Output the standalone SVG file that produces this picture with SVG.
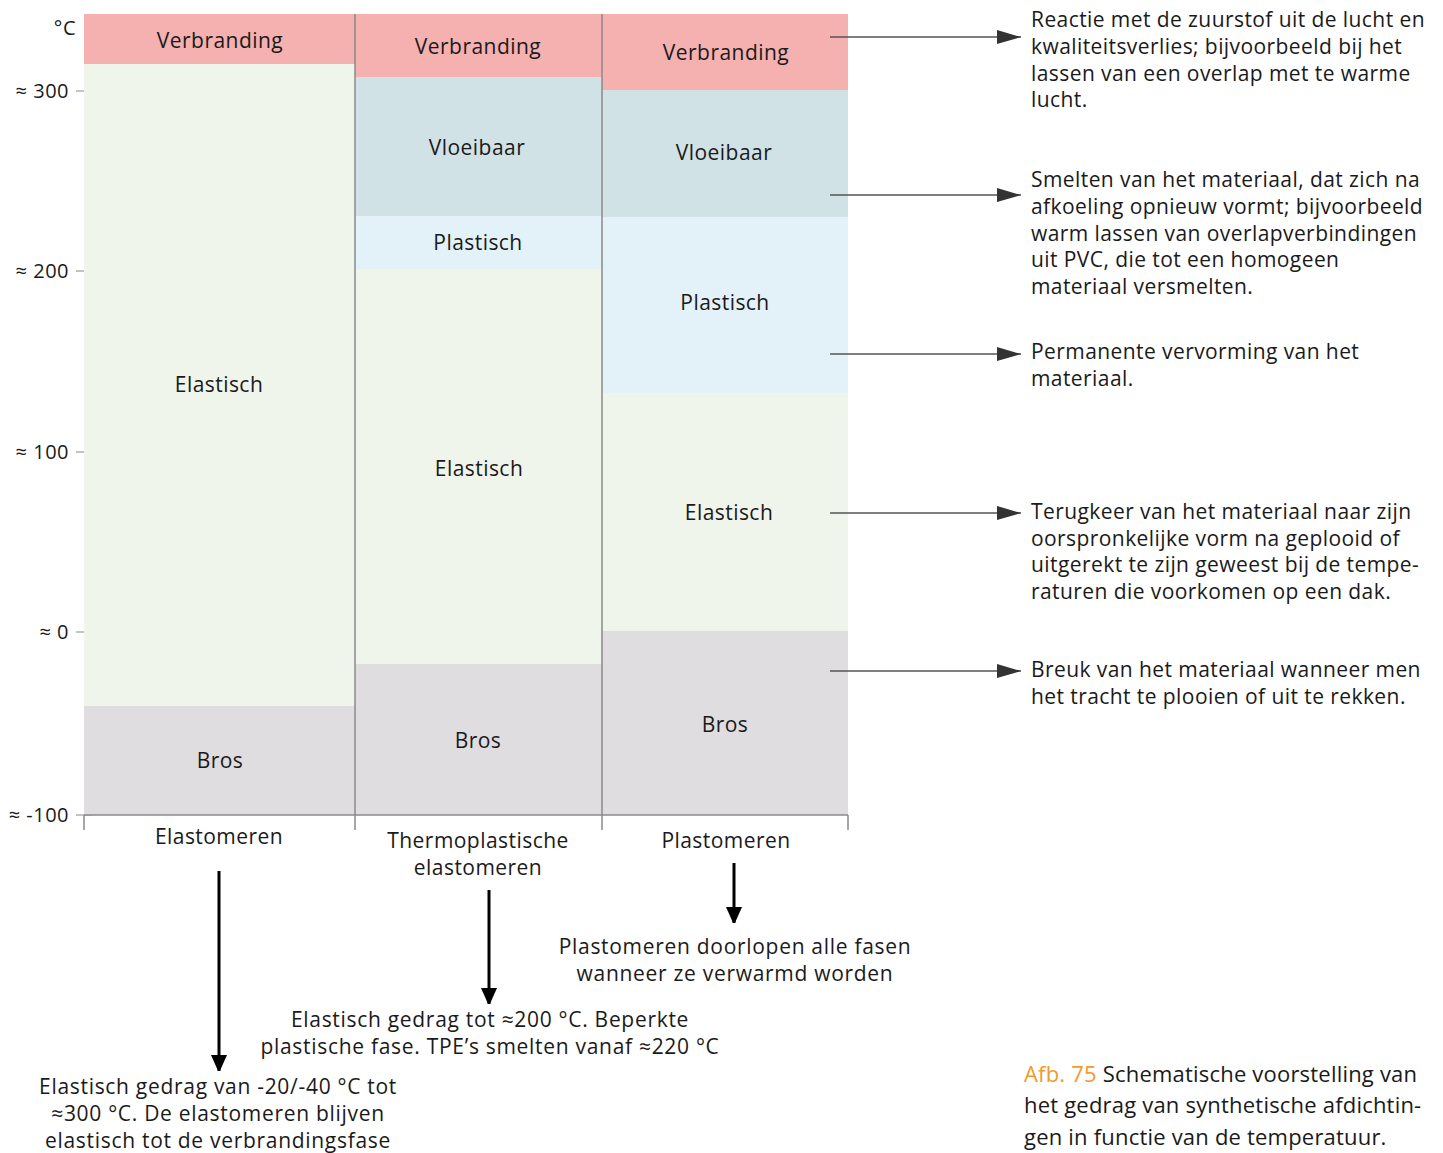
<svg xmlns="http://www.w3.org/2000/svg" width="1443" height="1153" viewBox="0 0 1443 1153">
  <style>
    text { font-family: "Open Sans", "Noto Sans", sans-serif; fill: #1a1a1a; }
    .seg { font-size: 21px; text-anchor: middle; letter-spacing: 0.45px; }
    .ax { font-size: 20px; text-anchor: end; letter-spacing: 0.5px; }
    .note { font-size: 21px; letter-spacing: 0.42px; }
    .mid { font-size: 21px; text-anchor: middle; letter-spacing: 0.7px; }
    .cap { font-size: 22px; letter-spacing: 0.2px; }
    .burn { fill: #f5b0b0; }
    .liq { fill: #d1e2e6; }
    .plas { fill: #e3f1f8; }
    .elas { fill: #f0f5eb; }
    .brit { fill: #dfdddf; }
    .grid { stroke: #8a8a8a; stroke-width: 1.5; fill: none; }
    .tick { stroke: #9a9a9a; stroke-width: 1.2; }
    .lead { stroke: #555; stroke-width: 1.3; fill: none; }
    .down { stroke: #000; stroke-width: 3; fill: none; }
  </style>
  <defs>
    <marker id="headGray" markerUnits="userSpaceOnUse" markerWidth="26" markerHeight="14" refX="24" refY="7" orient="auto">
      <path d="M0,0 L24,7 L0,14 Z" fill="#333"/>
    </marker>
    <marker id="headBlack" markerUnits="userSpaceOnUse" markerWidth="16" markerHeight="20" refX="16" refY="8" orient="auto">
      <path d="M0,0 L18,8 L0,16 Z" fill="#000"/>
    </marker>
  </defs>

  <!-- temperature axis -->
  <g id="axis">
    <text class="ax" x="76" y="35">°C</text>
    <text class="ax" x="69" y="98">≈ 300</text>
    <text class="ax" x="69" y="278">≈ 200</text>
    <text class="ax" x="69" y="459">≈ 100</text>
    <text class="ax" x="69" y="639">≈ 0</text>
    <text class="ax" x="69" y="822">≈ -100</text>
    <line class="tick" x1="76" y1="91" x2="92" y2="91"/>
    <line class="tick" x1="76" y1="271" x2="92" y2="271"/>
    <line class="tick" x1="76" y1="452" x2="92" y2="452"/>
    <line class="tick" x1="76" y1="632" x2="92" y2="632"/>
    <line class="tick" x1="76" y1="815" x2="92" y2="815"/>
  </g>

  <!-- column: elastomers -->
  <g id="col-elastomeren">
    <rect class="burn" x="84" y="14" width="271" height="50"/>
    <rect class="elas" x="84" y="64" width="271" height="642"/>
    <rect class="brit" x="84" y="706" width="271" height="109"/>
    <text class="seg" x="220" y="48">Verbranding</text>
    <text class="seg" x="219" y="392">Elastisch</text>
    <text class="seg" x="220" y="768">Bros</text>
    <text class="seg" x="219" y="844">Elastomeren</text>
  </g>

  <!-- column: thermoplastic elastomers -->
  <g id="col-tpe">
    <rect class="burn" x="355" y="14" width="247" height="63"/>
    <rect class="liq" x="355" y="77" width="247" height="139"/>
    <rect class="plas" x="355" y="216" width="247" height="53"/>
    <rect class="elas" x="355" y="269" width="247" height="395"/>
    <rect class="brit" x="355" y="664" width="247" height="151"/>
    <text class="seg" x="478" y="54">Verbranding</text>
    <text class="seg" x="477" y="155">Vloeibaar</text>
    <text class="seg" x="478" y="250">Plastisch</text>
    <text class="seg" x="479" y="476">Elastisch</text>
    <text class="seg" x="478" y="748">Bros</text>
    <text class="seg" x="478" y="848">Thermoplastische</text>
    <text class="seg" x="478" y="875">elastomeren</text>
  </g>

  <!-- column: plastomers -->
  <g id="col-plastomeren">
    <rect class="burn" x="602" y="14" width="246" height="76"/>
    <rect class="liq" x="602" y="90" width="246" height="127"/>
    <rect class="plas" x="602" y="217" width="246" height="176"/>
    <rect class="elas" x="602" y="393" width="246" height="238"/>
    <rect class="brit" x="602" y="631" width="246" height="184"/>
    <text class="seg" x="726" y="60">Verbranding</text>
    <text class="seg" x="724" y="160">Vloeibaar</text>
    <text class="seg" x="725" y="310">Plastisch</text>
    <text class="seg" x="729" y="520">Elastisch</text>
    <text class="seg" x="725" y="732">Bros</text>
    <text class="seg" x="726" y="848">Plastomeren</text>
  </g>

  <!-- frame lines -->
  <g id="frame">
    <line class="grid" x1="355" y1="14" x2="355" y2="830"/>
    <line class="grid" x1="602" y1="14" x2="602" y2="830"/>
    <line class="grid" x1="84" y1="815" x2="848" y2="815"/>
    <line class="grid" x1="84" y1="815" x2="84" y2="830"/>
    <line class="grid" x1="848" y1="815" x2="848" y2="830"/>
  </g>

  <!-- descriptions of each phase -->
  <g id="note-verbranding">
    <text class="note" x="1031" y="27">Reactie met de zuurstof uit de lucht en</text>
    <text class="note" x="1031" y="54">kwaliteitsverlies; bijvoorbeeld bij het</text>
    <text class="note" x="1031" y="81">lassen van een overlap met te warme</text>
    <text class="note" x="1031" y="107">lucht.</text>
  </g>
  <g id="note-vloeibaar">
    <text class="note" x="1031" y="187">Smelten van het materiaal, dat zich na</text>
    <text class="note" x="1031" y="214">afkoeling opnieuw vormt; bijvoorbeeld</text>
    <text class="note" x="1031" y="241">warm lassen van overlapverbindingen</text>
    <text class="note" x="1031" y="267">uit PVC, die tot een homogeen</text>
    <text class="note" x="1031" y="294">materiaal versmelten.</text>
  </g>
  <g id="note-plastisch">
    <text class="note" x="1031" y="359">Permanente vervorming van het</text>
    <text class="note" x="1031" y="386">materiaal.</text>
  </g>
  <g id="note-elastisch">
    <text class="note" x="1031" y="519">Terugkeer van het materiaal naar zijn</text>
    <text class="note" x="1031" y="546">oorspronkelijke vorm na geplooid of</text>
    <text class="note" x="1031" y="572">uitgerekt te zijn geweest bij de tempe-</text>
    <text class="note" x="1031" y="599">raturen die voorkomen op een dak.</text>
  </g>
  <g id="note-bros">
    <text class="note" x="1031" y="677">Breuk van het materiaal wanneer men</text>
    <text class="note" x="1031" y="704">het tracht te plooien of uit te rekken.</text>
  </g>

  <!-- summaries under the columns -->
  <g id="sum-plastomeren">
    <text class="mid" x="735" y="954">Plastomeren doorlopen alle fasen</text>
    <text class="mid" x="735" y="981">wanneer ze verwarmd worden</text>
  </g>
  <g id="sum-tpe">
    <text class="mid" x="490" y="1027">Elastisch gedrag tot ≈200 °C. Beperkte</text>
    <text class="mid" x="490" y="1054">plastische fase. TPE’s smelten vanaf ≈220 °C</text>
  </g>
  <g id="sum-elastomeren">
    <text class="mid" x="218" y="1094">Elastisch gedrag van -20/-40 °C tot</text>
    <text class="mid" x="218" y="1121">≈300 °C. De elastomeren blijven</text>
    <text class="mid" x="218" y="1148">elastisch tot de verbrandingsfase</text>
  </g>

  <!-- caption -->
  <g id="caption">
    <text class="cap" x="1024" y="1082"><tspan fill="#f39a2b">Afb. 75</tspan> Schematische voorstelling van</text>
    <text class="cap" x="1024" y="1113">het gedrag van synthetische afdichtin-</text>
    <text class="cap" x="1024" y="1145">gen in functie van de temperatuur.</text>
  </g>

  <!-- connectors -->
  <g id="connectors">
    <line class="lead" x1="830" y1="37" x2="1021" y2="37" marker-end="url(#headGray)"/>
    <line class="lead" x1="830" y1="195" x2="1021" y2="195" marker-end="url(#headGray)"/>
    <line class="lead" x1="830" y1="354" x2="1021" y2="354" marker-end="url(#headGray)"/>
    <line class="lead" x1="830" y1="513" x2="1021" y2="513" marker-end="url(#headGray)"/>
    <line class="lead" x1="830" y1="671" x2="1021" y2="671" marker-end="url(#headGray)"/>
    <line class="down" x1="219" y1="871" x2="219" y2="1071" marker-end="url(#headBlack)"/>
    <line class="down" x1="489" y1="890" x2="489" y2="1004" marker-end="url(#headBlack)"/>
    <line class="down" x1="734" y1="863" x2="734" y2="923" marker-end="url(#headBlack)"/>
  </g>
</svg>
